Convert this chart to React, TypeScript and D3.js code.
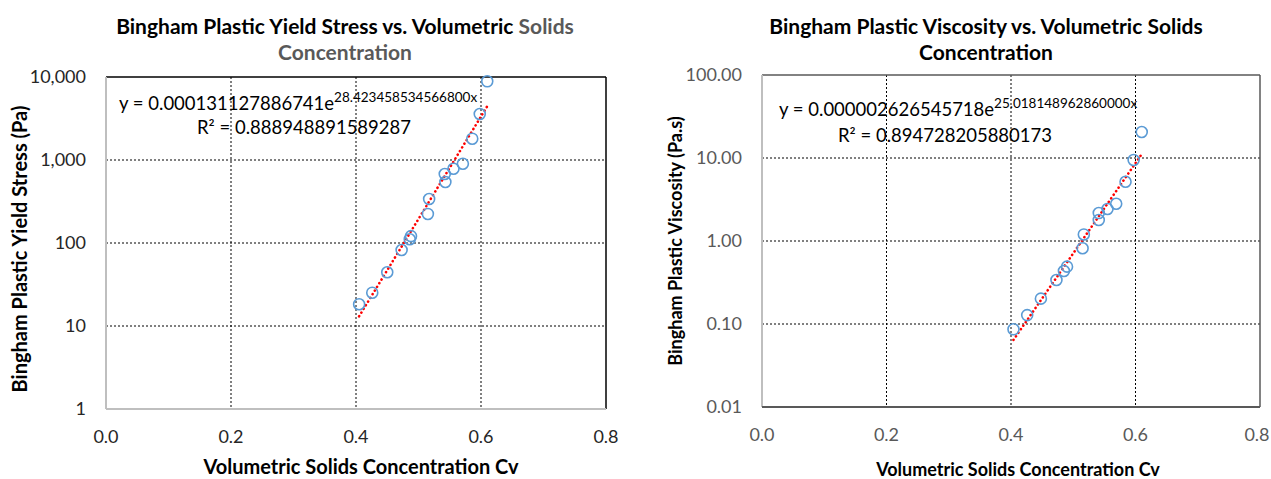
import * as d3 from "d3";
import React from "react";

// yield stress panel (Pa)
const cvYield = [0.405, 0.426, 0.45, 0.473, 0.486, 0.488, 0.515, 0.517, 0.543, 0.542, 0.556, 0.571, 0.586, 0.598, 0.61];
const yieldStress = [18.3, 25.2, 44.4, 82.4, 111, 121, 224, 339, 543, 678, 785, 902, 1806, 3580, 8870];

// viscosity panel (Pa.s)
const cvVisc = [0.404, 0.426, 0.448, 0.473, 0.485, 0.49, 0.515, 0.517, 0.541, 0.541, 0.555, 0.569, 0.584, 0.597, 0.61];
const viscosity = [0.0863, 0.128, 0.202, 0.339, 0.435, 0.491, 0.817, 1.2, 1.79, 2.17, 2.43, 2.81, 5.18, 9.46, 20.6];

const xTicks = [0, 0.2, 0.4, 0.6, 0.8];
const yieldTicks = [1, 10, 100, 1000, 10000];
const viscTicks = [0.01, 0.1, 1, 10, 100];

// excel trendline fits
const yieldFit = { a: 0.000131127886741, b: 28.4234585345668 };
const viscFit = { a: 0.000002626545718, b: 25.01814896286 };

const W = 1271;
const H = 479;
const FONT = "Lato, 'Open Sans', sans-serif";

function Panel(props) {
  const { left, right, top, bottom, xs, ys, ticks, fit, fmt, c } = props;
  const x = d3.scaleLinear().domain([0, 0.8]).range([left, right]);
  const y = d3.scaleLog().domain([ticks[0], ticks[ticks.length - 1]]).range([bottom, top]);

  const [x0, x1] = d3.extent(xs);
  const fitPts = d3.range(0, 41).map(i => {
    const cv = x0 + (x1 - x0) * i / 40;
    return [cv, fit.a * Math.exp(fit.b * cv)];
  });
  const line = d3.line().x(d => x(d[0])).y(d => y(d[1]));

  return (
    <g fontFamily={FONT}>
      {/* grid */}
      {xTicks.slice(1, -1).map(t => (
        <line key={"gx" + t} x1={x(t)} x2={x(t)} y1={top} y2={bottom} stroke="#000" strokeWidth={1} strokeDasharray="2,2" />
      ))}
      {ticks.slice(1, -1).map(t => (
        <line key={"gy" + t} x1={left} x2={right} y1={y(t)} y2={y(t)} stroke="#000" strokeWidth={1} strokeDasharray="2,2" />
      ))}
      {/* frame */}
      <line x1={left} x2={right} y1={top} y2={top} stroke={c.frame} strokeWidth={1.5} />
      <line x1={right} x2={right} y1={top} y2={bottom} stroke={c.frame} strokeWidth={1.5} />
      <line x1={left} x2={left} y1={top} y2={bottom} stroke="#bfbfbf" strokeWidth={2} />
      <line x1={left} x2={right} y1={bottom} y2={bottom} stroke={c.bottom} strokeWidth={2} />

      {/* tick labels */}
      {ticks.map(t => (
        <text key={"ty" + t} x={left - 20} y={y(t)} dy="0.35em" textAnchor="end" fontSize={18} fill={c.tick}>{fmt(t)}</text>
      ))}
      {xTicks.map(t => (
        <text key={"tx" + t} x={Math.min(x(t), W - 14)} y={bottom + 28} dy="0.35em" textAnchor="middle" fontSize={18} fill={c.tick}>{t.toFixed(1)}</text>
      ))}

      {/* trendline + points */}
      <path d={line(fitPts)} fill="none" stroke="#ff0000" strokeWidth={2.6} strokeDasharray="0.1,4.2" strokeLinecap="round" />
      {xs.map((v, i) => (
        <circle key={i} cx={x(v)} cy={y(ys[i])} r={5.5} fill="none" stroke="#5b9bd5" strokeWidth={1.6} />
      ))}
    </g>
  );
}

export default function App() {
  return (
    <svg width={W} height={H} style={{ position: "absolute", left: 0, top: 0, background: "#fff" }}>
      <rect width={W} height={H} fill="#fff" />
      {/* left chart */}
      <text x={345} y={27} dy="0.35em" textAnchor="middle" fontFamily={FONT} fontWeight="bold" fontSize={21} fill="#000">
        Bingham Plastic Yield Stress vs. Volumetric <tspan fill="#595959">Solids</tspan>
      </text>
      <text x={345} y={53} dy="0.35em" textAnchor="middle" fontFamily={FONT} fontWeight="bold" fontSize={21} fill="#595959">Concentration</text>
      <Panel left={106} right={606} top={77} bottom={409} xs={cvYield} ys={yieldStress} ticks={yieldTicks}
        fit={yieldFit} fmt={d3.format(",")} c={{ frame: "#000", bottom: "#bfbfbf", tick: "#262626" }} />
      <text transform="translate(20,249) rotate(-90)" dy="0.35em" textAnchor="middle" fontFamily={FONT} fontWeight="bold" fontSize={20} fill="#000">
        Bingham Plastic Yield Stress (Pa)
      </text>
      <text x={361} y={467} dy="0.35em" textAnchor="middle" fontFamily={FONT} fontWeight="bold" fontSize={20} fill="#000">
        Volumetric Solids Concentration Cv
      </text>
      <text x={119} y={104} dy="0.35em" fontFamily={FONT} fontSize={18.5} fill="#000">
        y = 0.000131127886741e<tspan dy={-8} fontSize={13.5}>28.423458534566800x</tspan>
      </text>
      <text x={197} y={128} dy="0.35em" fontFamily={FONT} fontSize={18.5} fill="#000">R² = 0.888948891589287</text>

      {/* right chart */}
      <text x={986} y={27} dy="0.35em" textAnchor="middle" fontFamily={FONT} fontWeight="bold" fontSize={21} fill="#000">
        Bingham Plastic Viscosity vs. Volumetric Solids
      </text>
      <text x={986} y={53} dy="0.35em" textAnchor="middle" fontFamily={FONT} fontWeight="bold" fontSize={21} fill="#000">Concentration</text>
      <Panel left={762} right={1260} top={75} bottom={407} xs={cvVisc} ys={viscosity} ticks={viscTicks}
        fit={viscFit} fmt={d3.format(".2f")} c={{ frame: "#595959", bottom: "#595959", tick: "#595959" }} />
      <text transform="translate(676,241) rotate(-90)" dy="0.35em" textAnchor="middle" fontFamily={FONT} fontWeight="bold" fontSize={18} fill="#000">
        Bingham Plastic Viscosity (Pa.s)
      </text>
      <text x={1018} y={470} dy="0.35em" textAnchor="middle" fontFamily={FONT} fontWeight="bold" fontSize={18} fill="#000">
        Volumetric Solids Concentration Cv
      </text>
      <text x={779} y={110} dy="0.35em" fontFamily={FONT} fontSize={18.5} fill="#000">
        y = 0.000002626545718e<tspan dy={-8} fontSize={13.5}>25.018148962860000x</tspan>
      </text>
      <text x={838} y={136} dy="0.35em" fontFamily={FONT} fontSize={18.5} fill="#000">R² = 0.894728205880173</text>
    </svg>
  );
}
